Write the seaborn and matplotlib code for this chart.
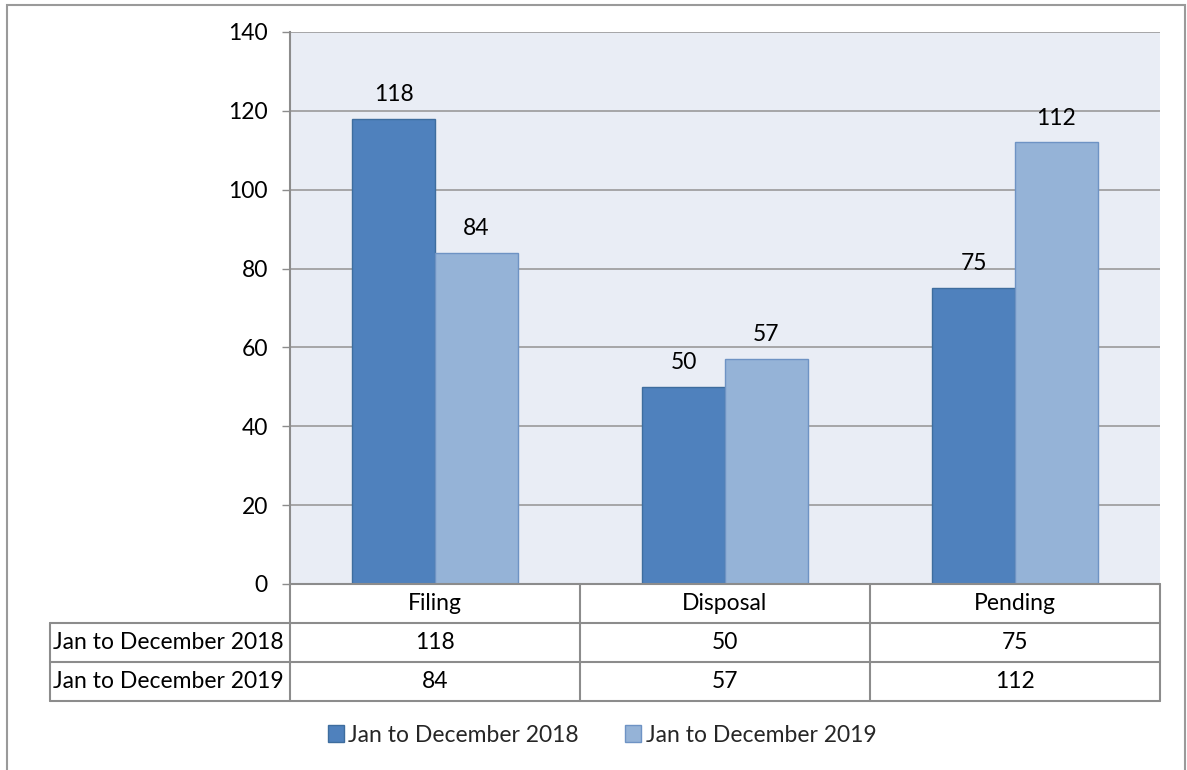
import matplotlib
matplotlib.use("Agg")
import matplotlib.pyplot as plt
from matplotlib.lines import Line2D
from matplotlib.patches import Rectangle, Patch
import seaborn as sns
import pandas as pd

# Data
categories = ["Filing", "Disposal", "Pending"]
series_names = ["Jan to December 2018", "Jan to December 2019"]
values_2018 = [118, 50, 75]
values_2019 = [84, 57, 112]
y_ticks = [0, 20, 40, 60, 80, 100, 120, 140]

colors = ["#4F81BD", "#95B3D7"]
edge_colors = ["#3E6D9E", "#6E93C4"]

df = pd.DataFrame({
    "category": categories * 2,
    "series": [series_names[0]] * 3 + [series_names[1]] * 3,
    "value": values_2018 + values_2019,
})

sns.set_theme(style="white")
plt.rcParams["font.family"] = ["Lato", "DejaVu Sans"]
FS = 16.5

W, H = 1187, 770
fig = plt.figure(figsize=(W / 100, H / 100), dpi=100)


def fx(px):
    return px / W


def fy(py):
    return 1 - py / H


left, right, top, bottom = 290, 1160, 32, 584
ax = fig.add_axes([fx(left), fy(bottom), fx(right) - fx(left), fy(top) - fy(bottom)])
ax.set_facecolor("#E9EDF5")

sns.barplot(data=df, x="category", y="value", hue="series", order=categories,
            hue_order=series_names, palette=colors, width=0.57, saturation=1,
            ax=ax, legend=False, zorder=3)

for i, bars in enumerate(ax.containers):
    for b in bars:
        b.set_edgecolor(edge_colors[i])
        b.set_linewidth(1.0)
    ax.bar_label(bars, labels=[str(int(v)) for v in bars.datavalues],
                 padding=10, fontsize=FS, color="#000000")

ax.set_xlim(-0.5, 2.5)
ax.set_ylim(0, 140)
ax.set_yticks(y_ticks)
ax.set_yticklabels([str(t) for t in y_ticks], fontsize=FS, color="#000000")
ax.tick_params(axis="y", length=6, width=1, color="#8C8C8C", pad=10, left=True)
ax.set_xticks([])
ax.set_xlabel("")
ax.set_ylabel("")
ax.yaxis.grid(True, color="#9A9A9A", linewidth=1.2, zorder=0)
ax.set_axisbelow(True)
for s in ["top", "right", "bottom"]:
    ax.spines[s].set_visible(False)
ax.spines["left"].set_color("#8C8C8C")
ax.spines["left"].set_linewidth(1.5)

# Data table beneath the plot area
line_kw = dict(color="#8C8C8C", linewidth=1.5, transform=fig.transFigure)
rows_y = [584, 623, 662, 701]
col_x = [290, 580, 870, 1160]
label_left = 50


def hline(y, x0, x1):
    fig.add_artist(Line2D([fx(x0), fx(x1)], [fy(y), fy(y)], **line_kw))


def vline(x, y0, y1):
    fig.add_artist(Line2D([fx(x), fx(x)], [fy(y0), fy(y1)], **line_kw))


hline(rows_y[0], col_x[0], col_x[-1])
for y in rows_y[1:]:
    hline(y, label_left, col_x[-1])
for x in col_x:
    vline(x, rows_y[0], rows_y[-1])
vline(label_left, rows_y[1], rows_y[-1])

txt_kw = dict(fontsize=FS, color="#000000", va="center", transform=fig.transFigure)
for j, cat in enumerate(categories):
    cx = (col_x[j] + col_x[j + 1]) / 2
    fig.text(fx(cx), fy((rows_y[0] + rows_y[1]) / 2), cat, ha="center", **txt_kw)
for r, (name, vals) in enumerate(zip(series_names, [values_2018, values_2019])):
    cy = (rows_y[r + 1] + rows_y[r + 2]) / 2
    fig.text(fx(label_left + 3), fy(cy), name, ha="left", **txt_kw)
    for j, v in enumerate(vals):
        cx = (col_x[j] + col_x[j + 1]) / 2
        fig.text(fx(cx), fy(cy), str(v), ha="center", **txt_kw)

# Legend
handles = [Patch(facecolor=colors[i], edgecolor=edge_colors[i], label=series_names[i])
           for i in range(2)]
fig.legend(handles=handles, loc="center", bbox_to_anchor=(fx(602), fy(735)), ncol=2,
           frameon=False, fontsize=FS, handlelength=0.7, handleheight=0.7,
           handletextpad=0.2, columnspacing=2.0)

# Outer chart border
fig.add_artist(Rectangle((fx(7), fy(778)), fx(1185) - fx(7), fy(5) - fy(778),
                         transform=fig.transFigure, fill=False,
                         edgecolor="#9A9A9A", linewidth=1.5))

fig.savefig("out.png", dpi=100, facecolor="white")
